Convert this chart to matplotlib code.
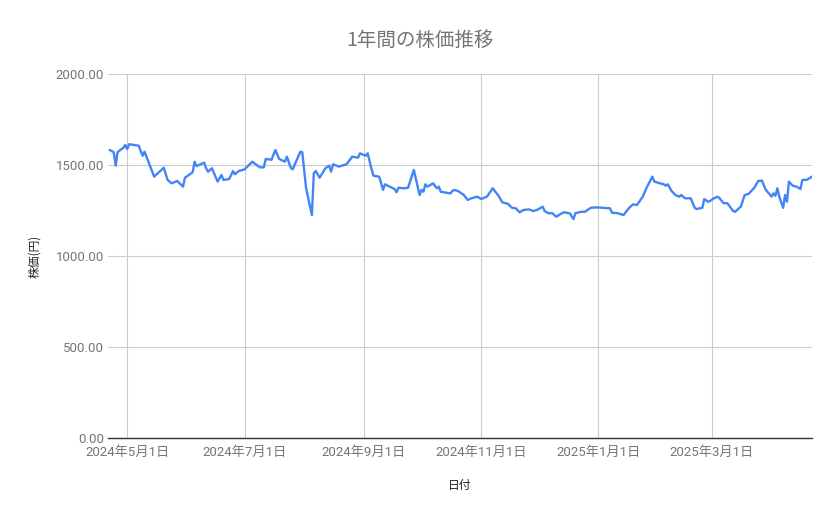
import numpy as np
import pandas as pd
import matplotlib
matplotlib.use('Agg')
import matplotlib.pyplot as plt
import matplotlib.dates as mdates

plt.rcParams['font.family'] = ['Roboto', 'Noto Sans CJK JP', 'DejaVu Sans']

# 日付と終値
dates = [
    '2024-04-22', '2024-04-24', '2024-04-25', '2024-04-26', '2024-04-29', '2024-04-30',
    '2024-05-01', '2024-05-02', '2024-05-07', '2024-05-08', '2024-05-09', '2024-05-10',
    '2024-05-15', '2024-05-20', '2024-05-22', '2024-05-24', '2024-05-27', '2024-05-30',
    '2024-05-31', '2024-06-04', '2024-06-05', '2024-06-06', '2024-06-10', '2024-06-11',
    '2024-06-12', '2024-06-14', '2024-06-17', '2024-06-19', '2024-06-20', '2024-06-23',
    '2024-06-25', '2024-06-26', '2024-06-28', '2024-07-01', '2024-07-05', '2024-07-09',
    '2024-07-11', '2024-07-12', '2024-07-15', '2024-07-17', '2024-07-19', '2024-07-22',
    '2024-07-23', '2024-07-25', '2024-07-26', '2024-07-30', '2024-07-31', '2024-08-02',
    '2024-08-05', '2024-08-06', '2024-08-07', '2024-08-09', '2024-08-12', '2024-08-14',
    '2024-08-15', '2024-08-16', '2024-08-19', '2024-08-23', '2024-08-26', '2024-08-29',
    '2024-08-30', '2024-09-01', '2024-09-02', '2024-09-03', '2024-09-05', '2024-09-06',
    '2024-09-09', '2024-09-11', '2024-09-12', '2024-09-17', '2024-09-18', '2024-09-19',
    '2024-09-22', '2024-09-24', '2024-09-27', '2024-09-30', '2024-10-01', '2024-10-02',
    '2024-10-03', '2024-10-04', '2024-10-07', '2024-10-09', '2024-10-10', '2024-10-11',
    '2024-10-16', '2024-10-17', '2024-10-18', '2024-10-20', '2024-10-23', '2024-10-25',
    '2024-10-27', '2024-10-30', '2024-11-01', '2024-11-04', '2024-11-07', '2024-11-10',
    '2024-11-12', '2024-11-15', '2024-11-17', '2024-11-19', '2024-11-21', '2024-11-23',
    '2024-11-26', '2024-11-28', '2024-11-30', '2024-12-03', '2024-12-04', '2024-12-06',
    '2024-12-08', '2024-12-10', '2024-12-13', '2024-12-14', '2024-12-17', '2024-12-19',
    '2024-12-20', '2024-12-23', '2024-12-25', '2024-12-28', '2024-12-31', '2025-01-07',
    '2025-01-08', '2025-01-11', '2025-01-14', '2025-01-17', '2025-01-19', '2025-01-21',
    '2025-01-24', '2025-01-26', '2025-01-29', '2025-01-30', '2025-02-02', '2025-02-04',
    '2025-02-05', '2025-02-06', '2025-02-08', '2025-02-10', '2025-02-12', '2025-02-13',
    '2025-02-15', '2025-02-18', '2025-02-20', '2025-02-21', '2025-02-24', '2025-02-25',
    '2025-02-27', '2025-02-28', '2025-03-02', '2025-03-04', '2025-03-05', '2025-03-07',
    '2025-03-09', '2025-03-12', '2025-03-13', '2025-03-16', '2025-03-18', '2025-03-20',
    '2025-03-23', '2025-03-25', '2025-03-27', '2025-03-29', '2025-03-31', '2025-04-01',
    '2025-04-02', '2025-04-03', '2025-04-04', '2025-04-05', '2025-04-07', '2025-04-08',
    '2025-04-09', '2025-04-10', '2025-04-12', '2025-04-14', '2025-04-16', '2025-04-17',
    '2025-04-19', '2025-04-20', '2025-04-22',
]
prices = [
    1582, 1570, 1496, 1571, 1595, 1610,
    1588, 1614, 1606, 1577, 1551, 1573,
    1436, 1485, 1418, 1399, 1412, 1381,
    1430, 1460, 1518, 1494, 1513, 1482,
    1463, 1482, 1409, 1445, 1418, 1423,
    1467, 1449, 1467, 1476, 1518, 1487,
    1487, 1533, 1529, 1582, 1533, 1518,
    1546, 1485, 1476, 1573, 1570, 1372,
    1225, 1455, 1467, 1430, 1482, 1496,
    1463, 1504, 1491, 1504, 1546, 1540,
    1564, 1555, 1551, 1564, 1478, 1441,
    1436, 1363, 1394, 1368, 1350, 1375,
    1372, 1375, 1473, 1335, 1363, 1353,
    1394, 1381, 1399, 1372, 1381, 1353,
    1344, 1357, 1363, 1357, 1335, 1308,
    1317, 1326, 1313, 1326, 1372, 1331,
    1295, 1286, 1265, 1262, 1240, 1253,
    1256, 1247, 1253, 1271, 1247, 1235,
    1235, 1216, 1235, 1240, 1235, 1203,
    1235, 1243, 1243, 1265, 1267, 1262,
    1238, 1235, 1225, 1265, 1284, 1280,
    1326, 1375, 1436, 1409, 1399, 1394,
    1386, 1394, 1357, 1335, 1326, 1335,
    1317, 1317, 1265, 1258, 1265, 1313,
    1298, 1302, 1317, 1326, 1317, 1290,
    1290, 1247, 1243, 1271, 1335, 1341,
    1375, 1412, 1414, 1363, 1339, 1326,
    1344, 1331, 1372, 1326, 1265, 1335,
    1298, 1409, 1386, 1381, 1368, 1418,
    1418, 1423, 1436,
]
tick_dates = ['2024-05-01', '2024-07-01', '2024-09-01', '2024-11-01', '2025-01-01', '2025-03-01']
tick_labels = ['2024年5月1日', '2024年7月1日', '2024年9月1日', '2024年11月1日', '2025年1月1日', '2025年3月1日']
y_ticks = [0, 500, 1000, 1500, 2000]

x = pd.to_datetime(dates)
ticks = pd.to_datetime(tick_dates)

fig = plt.figure(figsize=(8.39, 5.19), dpi=100)
ax = fig.add_axes([108/839, 1 - 438/519, (812 - 108)/839, (438 - 74)/519])

ax.plot(x, prices, color='#4285f4', lw=1.7, solid_joinstyle='round')

ax.set_xlim(x[0] - pd.Timedelta(days=1), x[-1])
ax.set_ylim(0, 2000)
ax.set_yticks(y_ticks)
ax.set_yticklabels([f'{v:.2f}' for v in y_ticks])
ax.set_xticks(ticks)
ax.set_xticklabels(tick_labels)

ax.grid(True, color='#cccccc', lw=0.8)
ax.set_axisbelow(True)
for s in ['top', 'right', 'left']:
    ax.spines[s].set_visible(False)
ax.spines['bottom'].set_color('#333333')
ax.spines['bottom'].set_linewidth(1.0)
ax.tick_params(axis='both', length=0, colors='#757575', labelsize=9.5)
ax.tick_params(axis='y', pad=3)
ax.tick_params(axis='x', pad=6)
for lbl in ax.get_xticklabels() + ax.get_yticklabels():
    lbl.set_family(['Roboto', 'Noto Sans CJK JP'])

fig.text(0.5, 1 - 40/519, '1年間の株価推移', ha='center', va='center',
         fontsize=14, color='#757575', family=['Noto Sans CJK JP', 'DejaVu Sans'])
fig.text(35/839, 1 - 256/519, '株価(円)', rotation=90, ha='center', va='center',
         fontsize=8.5, color='#222222', family=['Noto Sans CJK JP', 'DejaVu Sans'])
fig.text(460/839, 1 - 486/519, '日付', ha='center', va='center',
         fontsize=8.5, color='#222222', family=['Noto Sans CJK JP', 'DejaVu Sans'])

fig.savefig('out.png', dpi=100, facecolor='white')
